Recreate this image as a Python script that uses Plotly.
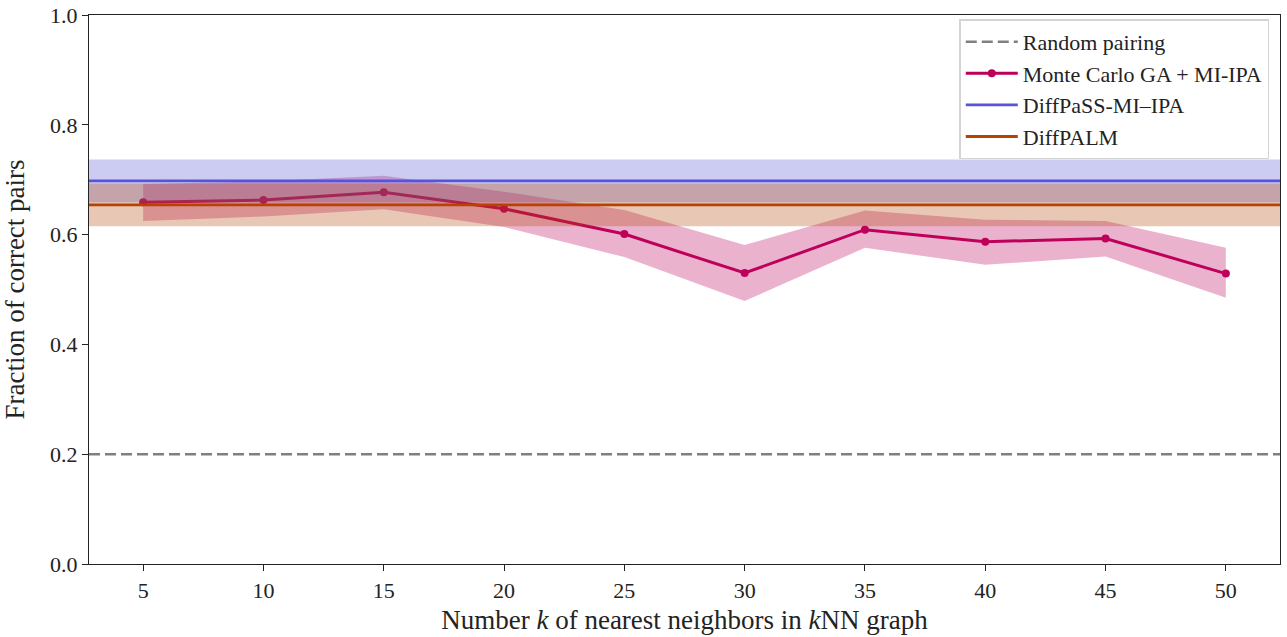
import plotly.graph_objects as go

# Data
k_values = [5, 10, 15, 20, 25, 30, 35, 40, 45, 50]
mc_mean = [0.659, 0.663, 0.677, 0.647, 0.601, 0.530, 0.609, 0.587, 0.593, 0.529]
mc_upper = [0.692, 0.697, 0.707, 0.678, 0.645, 0.581, 0.644, 0.627, 0.625, 0.576]
mc_lower = [0.625, 0.633, 0.646, 0.614, 0.559, 0.479, 0.576, 0.545, 0.560, 0.485]

random_level = 0.2
diffpass_mean = 0.698
diffpass_std = 0.039
diffpalm_mean = 0.654
diffpalm_std = 0.039

x_range = [2.75, 52.25]
y_ticks = [0.0, 0.2, 0.4, 0.6, 0.8, 1.0]

FONT = "Liberation Serif, Times New Roman, serif"
TXT = "rgb(35,35,35)"
MC_COLOR = "rgb(190,0,90)"
MC_FILL = "rgba(190,0,90,0.3)"
DP_COLOR = "rgb(88,84,218)"
DP_FILL = "rgba(85,85,215,0.3)"
DPALM_COLOR = "rgb(182,66,4)"
DPALM_FILL = "rgba(180,70,5,0.3)"

fig = go.Figure()

# Random pairing
fig.add_trace(go.Scatter(x=x_range, y=[random_level, random_level], mode="lines",
                         line=dict(color="rgb(128,128,128)", width=2.6, dash="11px,5px"),
                         name="Random pairing"))

# Monte Carlo band + line
fig.add_trace(go.Scatter(x=k_values + k_values[::-1], y=mc_upper + mc_lower[::-1],
                         fill="toself", fillcolor=MC_FILL, line=dict(width=0),
                         mode="lines", showlegend=False, hoverinfo="skip"))
fig.add_trace(go.Scatter(x=k_values, y=mc_mean, mode="lines+markers",
                         line=dict(color=MC_COLOR, width=3),
                         marker=dict(color=MC_COLOR, size=8),
                         name="Monte Carlo GA + MI-IPA"))

# DiffPaSS band + line
fig.add_trace(go.Scatter(x=x_range + x_range[::-1],
                         y=[diffpass_mean + diffpass_std] * 2 + [diffpass_mean - diffpass_std] * 2,
                         fill="toself", fillcolor=DP_FILL, line=dict(width=0),
                         mode="lines", showlegend=False, hoverinfo="skip"))
fig.add_trace(go.Scatter(x=x_range, y=[diffpass_mean] * 2, mode="lines",
                         line=dict(color=DP_COLOR, width=2.8),
                         name="DiffPaSS-MI–IPA"))

# DiffPALM band + line
fig.add_trace(go.Scatter(x=x_range + x_range[::-1],
                         y=[diffpalm_mean + diffpalm_std] * 2 + [diffpalm_mean - diffpalm_std] * 2,
                         fill="toself", fillcolor=DPALM_FILL, line=dict(width=0),
                         mode="lines", showlegend=False, hoverinfo="skip"))
fig.add_trace(go.Scatter(x=x_range, y=[diffpalm_mean] * 2, mode="lines",
                         line=dict(color=DPALM_COLOR, width=2.8),
                         name="DiffPALM"))

fig.update_layout(
    width=1287, height=637,
    margin=dict(l=89, r=7, t=15, b=73, autoexpand=False),
    plot_bgcolor="white", paper_bgcolor="white",
    font=dict(family=FONT, size=22, color=TXT),
    legend=dict(x=0.991, y=0.992, xanchor="right", yanchor="top",
                bgcolor="rgba(255,255,255,0.85)", bordercolor="rgb(212,212,212)", borderwidth=1.5,
                font=dict(family=FONT, size=22, color=TXT),
                tracegroupgap=0, itemwidth=52),
)
fig.update_xaxes(range=x_range, tickvals=k_values, ticks="outside", ticklen=6, tickwidth=1.3,
                 tickcolor=TXT, showgrid=False, zeroline=False, automargin=False,
                 showline=True, linecolor=TXT, linewidth=1.4, mirror=True,
                 tickfont=dict(size=22), ticklabeloverflow="allow",
                 title=dict(text="Number <i>k</i> of nearest neighbors in <i>k</i>NN graph",
                            font=dict(size=27), standoff=8))
fig.update_yaxes(range=[0, 1], tickvals=y_ticks, tickformat=".1f", ticks="outside", ticklen=6,
                 tickwidth=1.3, tickcolor=TXT, showgrid=False, zeroline=False, automargin=False,
                 showline=True, linecolor=TXT, linewidth=1.4, mirror=True,
                 tickfont=dict(size=22), ticklabeloverflow="allow",
                 title=dict(text="Fraction of correct pairs", font=dict(size=27), standoff=20))

fig.write_html("out.html", config={"displayModeBar": False},
               post_script="document.body.style.margin='0';")
